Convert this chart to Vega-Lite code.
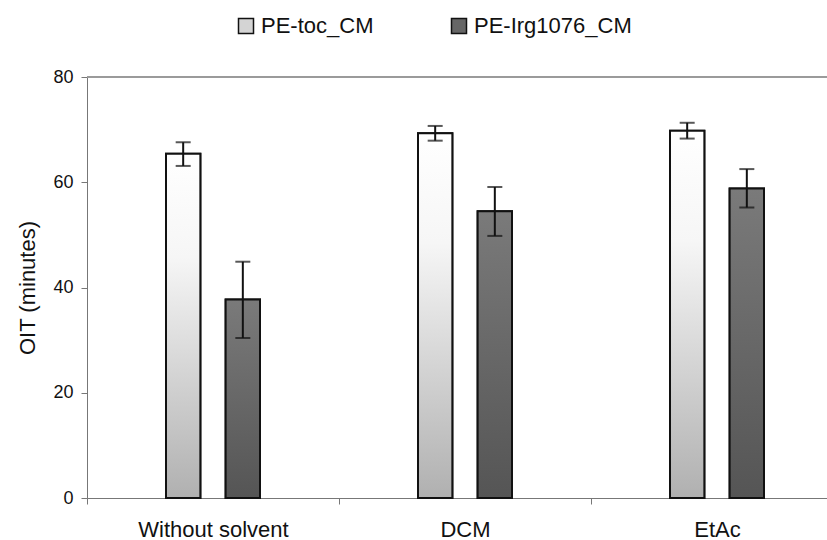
{
  "$schema": "https://vega.github.io/schema/vega-lite/v6.json",
  "autosize": "none",
  "width": 740,
  "height": 421,
  "padding": {"left": 87, "top": 77, "right": 0, "bottom": 42},
  "background": "white",
  "config": {
    "font": "Liberation Sans",
    "view": {"stroke": null}
  },
  "data": {
    "values": [
      {"solvent": "Without solvent", "sample": "PE-toc_CM", "oit": 65.4, "lo": 63.1, "hi": 67.6},
      {"solvent": "Without solvent", "sample": "PE-Irg1076_CM", "oit": 37.7, "lo": 30.4, "hi": 44.9},
      {"solvent": "DCM", "sample": "PE-toc_CM", "oit": 69.3, "lo": 67.9, "hi": 70.7},
      {"solvent": "DCM", "sample": "PE-Irg1076_CM", "oit": 54.5, "lo": 49.8, "hi": 59.1},
      {"solvent": "EtAc", "sample": "PE-toc_CM", "oit": 69.8, "lo": 68.3, "hi": 71.3},
      {"solvent": "EtAc", "sample": "PE-Irg1076_CM", "oit": 58.8, "lo": 55.2, "hi": 62.5}
    ]
  },
  "layer": [
    {
      "mark": {"type": "rule", "color": "#999", "strokeWidth": 1},
      "encoding": {"y": {"datum": 80, "type": "quantitative"}}
    },
    {
      "mark": {"type": "bar", "stroke": "#111", "strokeWidth": 2},
      "encoding": {
        "x": {
          "field": "solvent",
          "type": "nominal",
          "sort": ["Without solvent", "DCM", "EtAc"],
          "scale": {"range": [0, 756], "paddingInner": 0, "paddingOuter": 0},
          "axis": {
            "title": null,
            "labelAngle": 0,
            "labelFontSize": 22,
            "labelColor": "#111",
            "labelPadding": 15,
            "tickBand": "extent",
            "tickSize": 6,
            "tickColor": "#777",
            "domainColor": "#777"
          }
        },
        "xOffset": {
          "field": "sample",
          "type": "nominal",
          "sort": ["PE-toc_CM", "PE-Irg1076_CM"],
          "scale": {"range": [79, 173], "paddingInner": 0.424, "paddingOuter": 0}
        },
        "y": {
          "field": "oit",
          "type": "quantitative",
          "scale": {"domain": [0, 80]},
          "axis": {
            "title": "OIT (minutes)",
            "titleFontSize": 22,
            "titleFontWeight": "normal",
            "titleColor": "#111",
            "titlePadding": 13,
            "values": [0, 20, 40, 60, 80],
            "grid": false,
            "labelFontSize": 18,
            "labelColor": "#111",
            "labelPadding": 8,
            "tickSize": 6,
            "tickColor": "#777",
            "domainColor": "#777"
          }
        },
        "fill": {
          "field": "sample",
          "type": "nominal",
          "sort": ["PE-toc_CM", "PE-Irg1076_CM"],
          "scale": {
            "domain": ["PE-toc_CM", "PE-Irg1076_CM"],
            "range": ["#d4d4d4", "#666666"]
          },
          "legend": {
            "title": null,
            "orient": "none",
            "legendX": 148,
            "legendY": -62,
            "direction": "horizontal",
            "symbolType": "square",
            "symbolSize": 225,
            "symbolStrokeColor": "#111",
            "symbolStrokeWidth": 1.5,
            "labelFontSize": 22,
            "labelColor": "#111",
            "labelOffset": 4,
            "columnPadding": 74
          }
        }
      }
    },
    {
      "transform": [{"filter": "datum.sample === 'PE-toc_CM'"}],
      "mark": {
        "type": "bar", "stroke": "#111", "strokeWidth": 2,
        "fill": {"gradient": "linear", "x1": 0, "y1": 0, "x2": 0, "y2": 1,
                 "stops": [{"offset": 0, "color": "#ffffff"}, {"offset": 0.3, "color": "#f6f6f6"}, {"offset": 1, "color": "#b0b0b0"}]}
      },
      "encoding": {
        "x": {"field": "solvent", "type": "nominal", "sort": ["Without solvent", "DCM", "EtAc"]},
        "xOffset": {"field": "sample", "type": "nominal", "sort": ["PE-toc_CM", "PE-Irg1076_CM"]},
        "y": {"field": "oit", "type": "quantitative"}
      }
    },
    {
      "transform": [{"filter": "datum.sample === 'PE-Irg1076_CM'"}],
      "mark": {
        "type": "bar", "stroke": "#111", "strokeWidth": 2,
        "fill": {"gradient": "linear", "x1": 0, "y1": 0, "x2": 0, "y2": 1,
                 "stops": [{"offset": 0, "color": "#7a7a7a"}, {"offset": 1, "color": "#555555"}]}
      },
      "encoding": {
        "x": {"field": "solvent", "type": "nominal", "sort": ["Without solvent", "DCM", "EtAc"]},
        "xOffset": {"field": "sample", "type": "nominal", "sort": ["PE-toc_CM", "PE-Irg1076_CM"]},
        "y": {"field": "oit", "type": "quantitative"}
      }
    },
    {
      "mark": {"type": "rule", "color": "#111", "strokeWidth": 2},
      "encoding": {
        "x": {"field": "solvent", "type": "nominal", "sort": ["Without solvent", "DCM", "EtAc"]},
        "xOffset": {"field": "sample", "type": "nominal", "sort": ["PE-toc_CM", "PE-Irg1076_CM"]},
        "y": {"field": "lo", "type": "quantitative"},
        "y2": {"field": "hi"}
      }
    },
    {
      "mark": {"type": "tick", "color": "#111", "thickness": 2, "size": 15},
      "encoding": {
        "x": {"field": "solvent", "type": "nominal", "sort": ["Without solvent", "DCM", "EtAc"]},
        "xOffset": {"field": "sample", "type": "nominal", "sort": ["PE-toc_CM", "PE-Irg1076_CM"]},
        "y": {"field": "lo", "type": "quantitative"}
      }
    },
    {
      "mark": {"type": "tick", "color": "#111", "thickness": 2, "size": 15},
      "encoding": {
        "x": {"field": "solvent", "type": "nominal", "sort": ["Without solvent", "DCM", "EtAc"]},
        "xOffset": {"field": "sample", "type": "nominal", "sort": ["PE-toc_CM", "PE-Irg1076_CM"]},
        "y": {"field": "hi", "type": "quantitative"}
      }
    }
  ]
}
